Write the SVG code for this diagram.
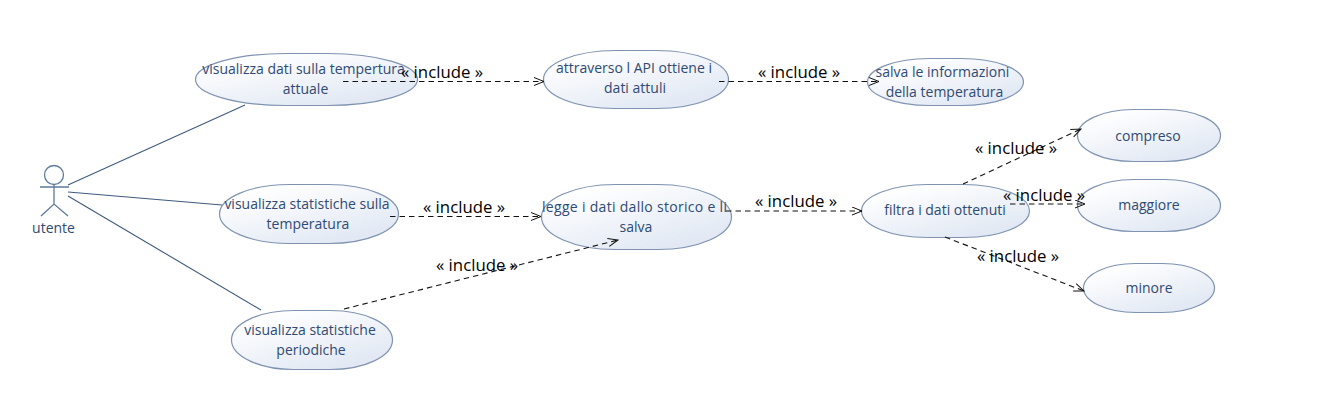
<svg xmlns="http://www.w3.org/2000/svg" width="1338" height="414" viewBox="0 0 1338 414">
<style>
text{font-family:"Open Sans","Noto Sans","Liberation Sans",sans-serif}
.uc{fill:url(#g);stroke:#7f93b0;stroke-width:1.2}
.t{font-size:14px;fill:#2f4a73;text-anchor:middle}
.i{font-size:16.8px;fill:#000;text-anchor:middle}
.a{stroke:#3f5a7c;stroke-width:1.1;fill:none}
.d{stroke:#111;stroke-width:1.1;fill:none;stroke-dasharray:5.500 4;marker-end:url(#m)}
</style>
<defs>
<linearGradient id="g" x1="0.1" y1="0.05" x2="0.8" y2="1"><stop offset="0.08" stop-color="#fff"/><stop offset="0.9" stop-color="#e2e9f4"/></linearGradient>
<marker id="m" markerWidth="12" markerHeight="10" refX="10.500" refY="4.500" orient="auto" markerUnits="userSpaceOnUse"><path d="M0.500 0.500L10.500 4.500L0.500 8.500" fill="none" stroke="#111" stroke-width="1"/></marker>
</defs>
<g id="utente">
<circle cx="54" cy="175" r="9.500" fill="#fff" stroke="#5f7a9c" stroke-width="1.300"/>
<path d="M54 185V204M40 187H69M41 216L54 204L68 216" fill="none" stroke="#5f7a9c" stroke-width="1.300"/>
<text class="t" x="53.500" y="233">utente</text>
</g>
<g id="uc1"><rect class="uc" x="195.500" y="53.500" width="222" height="52" rx="90" ry="26"/></g>
<g id="uc2"><rect class="uc" x="543.500" y="50.500" width="185" height="58" rx="72" ry="29"/></g>
<g id="uc3"><rect class="uc" x="867.500" y="58.500" width="156" height="47" rx="62" ry="23.500"/></g>
<g id="uc4"><rect class="uc" x="219.500" y="184.500" width="179" height="59" rx="70" ry="29.500"/></g>
<g id="uc5"><rect class="uc" x="541.500" y="184.500" width="190" height="65" rx="74" ry="32.500"/></g>
<g id="uc6"><rect class="uc" x="231.500" y="310.500" width="161" height="59" rx="62" ry="29.500"/></g>
<g id="uc7"><rect class="uc" x="861.500" y="184.500" width="168" height="53" rx="66" ry="26.500"/></g>
<g id="uc8"><rect class="uc" x="1077.500" y="109.500" width="143" height="52" rx="56" ry="26"/></g>
<g id="uc9"><rect class="uc" x="1077.500" y="179.500" width="143" height="52" rx="56" ry="26"/></g>
<g id="uc10"><rect class="uc" x="1083.500" y="263.500" width="131" height="49" rx="52" ry="24.500"/></g>
<g id="connectors">
<path class="a" d="M68 185L245 105"/>
<path class="a" d="M68 192L222 205"/>
<path class="a" d="M68 196L261 310"/>
<path class="d" d="M343 81.500H544"/>
<path class="d" d="M719 81.500H879"/>
<path class="d" d="M390 216.500H541"/>
<path class="d" d="M344 309L618 240"/>
<path class="d" d="M726 211H862"/>
<path class="d" d="M963 184L1081 129"/>
<path class="d" d="M1010 204H1085"/>
<path class="d" d="M945 237L1084 291"/>
</g>
<g id="node-labels">
<text class="t" x="303.500" y="74">visualizza dati sulla tempertura</text><text class="t" x="305.500" y="94">attuale</text>
<text class="t" x="634" y="73">attraverso l API ottiene i</text><text class="t" x="635" y="93">dati attuli</text>
<text class="t" x="942.500" y="77">salva le informazioni</text><text class="t" x="944.500" y="97">della temperatura</text>
<text class="t" x="307" y="209">visualizza statistiche sulla</text><text class="t" x="308" y="229">temperatura</text>
<text class="t" x="634.500" y="212" textLength="185">legge i dati dallo storico e li</text><text class="t" x="636" y="232">salva</text>
<text class="t" x="310" y="335">visualizza statistiche</text><text class="t" x="311" y="355">periodiche</text>
<text class="t" x="945" y="215">filtra i dati ottenuti</text>
<text class="t" x="1148" y="141">compreso</text>
<text class="t" x="1149" y="210">maggiore</text>
<text class="t" x="1149" y="293">minore</text>
</g>
<g id="labels">
<text class="i" x="442" y="78">« include »</text>
<text class="i" x="799" y="78">« include »</text>
<text class="i" x="464" y="213">« include »</text>
<text class="i" x="477" y="271">« include »</text>
<text class="i" x="796" y="207">« include »</text>
<text class="i" x="1016" y="154">« include »</text>
<text class="i" x="1044" y="201">« include »</text>
<text class="i" x="1018" y="262">« include »</text>
</g>
</svg>
